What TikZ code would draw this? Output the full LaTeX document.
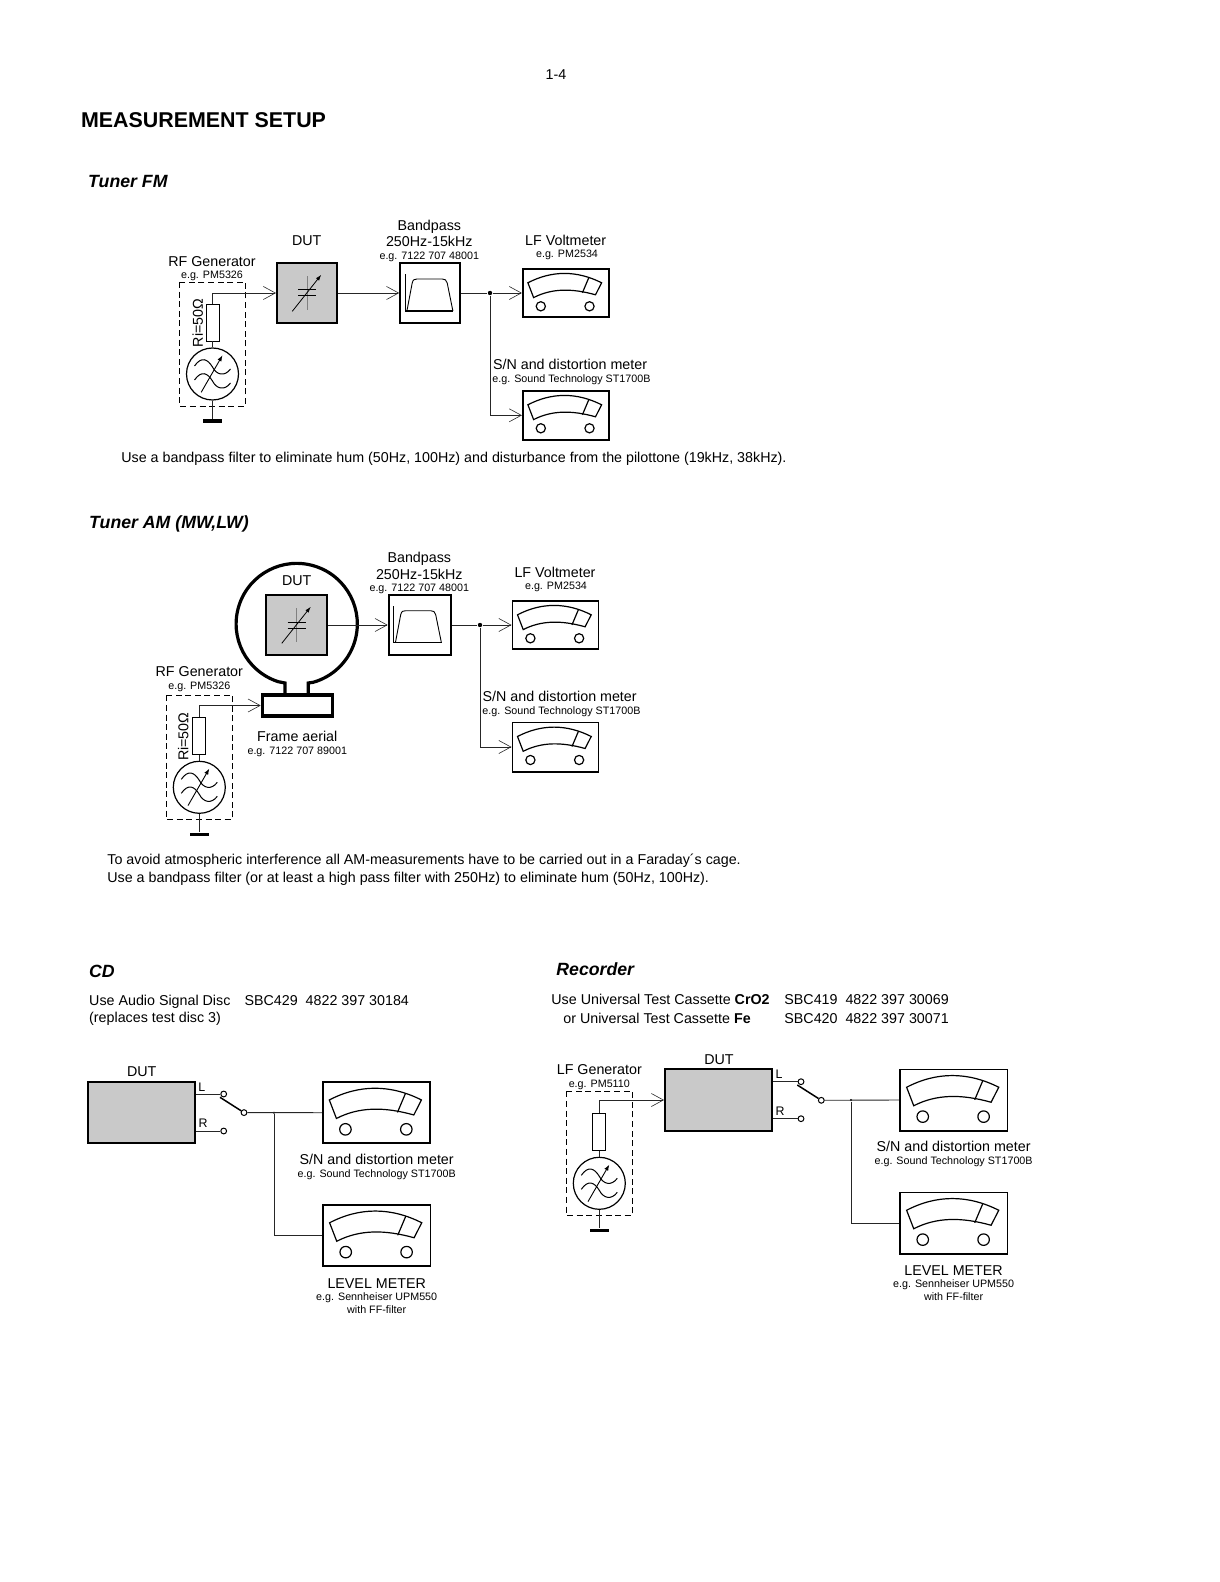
\documentclass[tikz,border=0pt]{standalone}
\usepackage{fontspec}
\setmainfont{Liberation Sans}
\usetikzlibrary{arrows.meta}
\begin{document}
\begin{tikzpicture}[x=0.5pt, y=-0.5pt,
    wire/.style={line width=0.45pt, black!85},
    arrowwire/.style={wire, -{Straight Barb[length=6pt, width=6.5pt, line width=0.3pt]}},
    labeltext/.style={font=\fontsize{7.14}{8.5}\selectfont, inner sep=0pt, text height=5.1pt, text depth=0pt},
    smalltext/.style={font=\fontsize{5.37}{6.5}\selectfont, inner sep=0pt, text height=3.85pt, text depth=0pt},
    tagtext/.style={font=\fontsize{6.2}{7}\selectfont, inner sep=0pt, text height=4.4pt, text depth=0pt},
    bodytext/.style={labeltext, anchor=west},
    heading/.style={font=\fontsize{8.85}{10}\selectfont\bfseries\itshape, inner sep=0pt, anchor=west, text height=6.4pt, text depth=0pt},
    dutbox/.style={draw, fill=black!21, line width=1pt, inner sep=0pt},
    filterbox/.style={draw, fill=white, line width=1pt, inner sep=0pt, minimum width=30pt, minimum height=30pt},
    meterbox/.style={draw, line width=0.9pt, inner sep=0pt},
    joindot/.style={circle, fill=black, inner sep=0pt, minimum size=2.2pt},
    smalldot/.style={circle, fill=black, inner sep=0pt, minimum size=1.2pt},
    terminal/.style={circle, draw, fill=white, line width=0.5pt, inner sep=0pt, minimum size=2.9pt}
  ]
  \useasboundingbox (0,0) rectangle (1219,1582);

  % Cadran du voltmetre, place depuis le coin du boitier
  \def\meterdial#1#2{
    \begin{scope}[shift={(#1.north west)}, scale=#2, line width=0.6pt]
      \draw (6,15) .. controls (30,2.5) and (55,2.5) .. (79.7,15) -- (73.6,27)
        .. controls (50,20.4) and (30,20.4) .. (11.7,29.8) -- cycle;
      \draw (67,9.6) -- (60.5,25);
      \draw (18.9,38.5) circle (4.6);
      \draw (67.6,38.5) circle (4.6);
    \end{scope}
  }

  % Condensateur variable au centre du DUT
  \def\capsym#1{
    \begin{scope}[shift={(#1.center)}]
      \draw[gray, line width=0.5pt] (0,-16.7) -- (0,16.7);
      \draw[line width=0.5pt] (-9,-3) -- (9,-3);
      \draw[line width=0.5pt] (-9,3) -- (9,3);
      \draw[line width=0.4pt, -{Latex[length=3pt, width=2pt]}] (-14.7,18.3) -- (14.3,-18.3);
    \end{scope}
  }

  % Courbe du filtre passe-bande
  \def\filtersym#1{
    \begin{scope}[shift={(#1.north west)}, line width=0.45pt]
      \draw[line width=0.6pt] (6,12.3) -- (6,49) -- (54,49);
      \draw (7.7,49) -- (13,21) .. controls (14,17.5) and (15,17) .. (18,17) -- (43,17)
        .. controls (46,17) and (47,18) .. (48,21) -- (53.7,49);
    \end{scope}
  }

  % Generateur complet : #1 prefixe, #2 axe x, #3 haut du cadre pointille
  \def\gensym#1#2#3{
    \draw[line width=0.45pt, dash pattern=on 3pt off 1.8pt] (#2-33,#3) rectangle (#2+33,#3+124);
    \node[draw, line width=0.45pt, inner sep=0pt, minimum width=6.5pt, minimum height=18.5pt] (#1res) at (#2,#3+40.5) {};
    \node[circle, draw, line width=0.6pt, inner sep=0pt, minimum size=26pt] (#1osc) at (#2,#3+92) {};
    \node[fill=black, inner sep=0pt, minimum width=9.5pt, minimum height=1.6pt] (#1gnd) at (#2,#3+139) {};
    \draw[wire] (#1res.south) -- (#1osc.north);
    \draw[wire] (#1osc.south) -- (#1gnd.north);
    \begin{scope}[shift={(#1osc.center)}, line width=0.5pt]
      \draw (-18,-8) .. controls (-11,-18) and (-5,-15) .. (0,-7) .. controls (4,1) and (12,3) .. (18,-5);
      \draw (-18,6) .. controls (-11,-4) and (-5,-1) .. (0,7) .. controls (4,15) and (12,17) .. (18,9);
      \draw[line width=0.45pt, -{Latex[length=3pt, width=2.2pt]}] (-11.3,18.3) -- (10,-18.7);
    \end{scope}
  }

  % Commutateur L/R : #1 prefixe, #2 et #3 position de la borne L
  \def\switchsym#1#2#3{
    \node[terminal] (#1left) at (#2,#3) {};
    \node[terminal] (#1right) at (#2,#3+37) {};
    \node[terminal] (#1com) at (#2+20.3,#3+18.6) {};
    \coordinate (#1blade) at (#2-3.7,#3+3.3);
    \draw[line width=0.75pt] (#1blade) -- (#1com);
  }

  % En-tete de page
  \node[labeltext] (pagenum) at (556,74) {1-4};
  \node[font=\fontsize{10.7}{12}\selectfont\bfseries, inner sep=0pt, anchor=west, text height=7.7pt, text depth=0pt] (title) at (80.7,120) {MEASUREMENT SETUP};

  % ---- Tuner FM ----
  \node[heading] (fmhead) at (87.8,181.6) {Tuner FM};
  \node[dutbox, minimum width=30pt, minimum height=30pt] (fmdut) at (307,293) {};
  \node[filterbox] (fmband) at (430.2,293) {};
  \node[meterbox, minimum width=43pt, minimum height=24.3pt] (fmvolt) at (565.8,293) {};
  \node[meterbox, minimum width=43pt, minimum height=24.6pt] (fmdist) at (565.8,415.3) {};
  \node[joindot] (fmjoin) at (490,293) {};
  \capsym{fmdut}
  \filtersym{fmband}
  \meterdial{fmvolt}{1}
  \meterdial{fmdist}{1}
  \gensym{fm}{212.5}{282}
  \draw[arrowwire] (fmres.north) |- (fmdut.west);
  \draw[arrowwire] (fmdut.east) -- (fmband.west);
  \draw[wire] (fmband.east) -- (fmjoin);
  \draw[arrowwire] (fmjoin) -- (fmvolt.west);
  \draw[arrowwire] (fmjoin) |- (fmdist.west);
  \node[labeltext] (fmgenname) at (212,261) {RF Generator};
  \node[smalltext] (fmgentype) at (212,274.7) {e.g. PM5326};
  \node[labeltext, rotate=90] (fmri) at (197.7,323) {Ri=50Ω};
  \node[labeltext] (fmdutname) at (306.7,240) {DUT};
  \node[labeltext] (fmbandname) at (429.3,225.3) {Bandpass};
  \node[labeltext] (fmbandrange) at (429.3,241.3) {250Hz-15kHz};
  \node[smalltext] (fmbandtype) at (429.3,255.3) {e.g. 7122 707 48001};
  \node[labeltext] (fmvoltname) at (565.7,240) {LF Voltmeter};
  \node[smalltext] (fmvolttype) at (567,254) {e.g. PM2534};
  \node[labeltext, anchor=west] (fmdistname) at (492.7,364) {S/N and distortion meter};
  \node[smalltext, anchor=west] (fmdisttype) at (492,379) {e.g. Sound Technology ST1700B};
  \node[bodytext] (fmnote) at (121,457) {Use a bandpass filter to eliminate hum (50Hz, 100Hz) and disturbance from the pilottone (19kHz, 38kHz).};

  % ---- Tuner AM ----
  \node[heading] (amhead) at (88.8,521.7) {Tuner AM (MW,LW)};
  % Cadre de reception : boucle et boitier
  \node[draw, fill=white, line width=1.6pt, inner sep=0pt, minimum width=35pt, minimum height=10.5pt] (amframe) at (297.3,705.5) {};
  \draw[line width=1.6pt] (285,695) -- (285,683) -- (278.3,681.7)
    arc[start angle=107.7, end angle=434.2, radius=60.6] -- (308.3,683) -- (308.3,695);
  \node[dutbox, minimum width=30.8pt, minimum height=30.3pt] (amdut) at (296.5,625) {};
  \node[filterbox, minimum width=31pt, minimum height=30.3pt] (amband) at (419.7,625) {};
  \node[meterbox, minimum width=43pt, minimum height=24.3pt] (amvolt) at (555.4,625) {};
  \node[meterbox, minimum width=43pt, minimum height=24.6pt] (amdist) at (555.4,747) {};
  \node[joindot] (amjoin) at (480,625) {};
  \capsym{amdut}
  \filtersym{amband}
  \meterdial{amvolt}{1}
  \meterdial{amdist}{1}
  \gensym{am}{199.3}{695.3}
  \draw[arrowwire] (amres.north) |- (amframe.west);
  \draw[arrowwire] (amdut.east) -- (amband.west);
  \draw[wire] (amband.east) -- (amjoin);
  \draw[arrowwire] (amjoin) -- (amvolt.west);
  \draw[arrowwire] (amjoin) |- (amdist.west);
  \node[labeltext] (amgenname) at (199.3,671.3) {RF Generator};
  \node[smalltext] (amgentype) at (199.3,685.3) {e.g. PM5326};
  \node[labeltext, rotate=90] (amri) at (183.3,736.7) {Ri=50Ω};
  \node[labeltext] (amdutname) at (296.7,580) {DUT};
  \node[labeltext] (amframename) at (297.3,736.7) {Frame aerial};
  \node[smalltext] (amframetype) at (297.3,750.7) {e.g. 7122 707 89001};
  \node[labeltext] (ambandname) at (419.3,557.3) {Bandpass};
  \node[labeltext] (ambandrange) at (419.3,574) {250Hz-15kHz};
  \node[smalltext] (ambandtype) at (419.3,587.3) {e.g. 7122 707 48001};
  \node[labeltext] (amvoltname) at (555,572) {LF Voltmeter};
  \node[smalltext] (amvolttype) at (556,585.5) {e.g. PM2534};
  \node[labeltext, anchor=west] (amdistname) at (482.3,696.3) {S/N and distortion meter};
  \node[smalltext, anchor=west] (amdisttype) at (482,710.5) {e.g. Sound Technology ST1700B};
  \node[bodytext] (amnotea) at (107,859.7) {To avoid atmospheric interference all AM-measurements have to be carried out in a Faraday´s cage.};
  \node[bodytext] (amnoteb) at (107,877) {Use a bandpass filter (or at least a high pass filter with 250Hz) to eliminate hum (50Hz, 100Hz).};

  % ---- CD ----
  \node[heading] (cdhead) at (88.8,970.7) {CD};
  \node[bodytext] (cddisc) at (88.8,1000) {Use Audio Signal Disc};
  \node[bodytext] (cdcode) at (244.2,1000) {SBC429\ \ 4822 397 30184};
  \node[bodytext] (cdnote) at (88.8,1017) {(replaces test disc 3)};
  \node[dutbox, minimum width=53.8pt, minimum height=30.6pt] (cddut) at (141.5,1112.7) {};
  \node[meterbox, minimum width=53.7pt, minimum height=30.6pt] (cdsn) at (376.4,1112.7) {};
  \node[meterbox, minimum width=53.7pt, minimum height=30.6pt] (cdlevel) at (376.7,1235.5) {};
  \meterdial{cdsn}{1.25}
  \meterdial{cdlevel}{1.25}
  \switchsym{cd}{223.7}{1094}
  \node[smalldot] (cdjoin) at (274,1112.7) {};
  \draw[wire] (cddut.east |- cdleft) -- (cdleft);
  \draw[wire] (cddut.east |- cdright) -- (cdright);
  \draw[wire] (cdcom) -- (cdsn.west);
  \draw[wire] (cdjoin) |- (cdlevel.west);
  \node[labeltext] (cddutname) at (141.7,1071) {DUT};
  \node[tagtext] (cdltag) at (201.7,1087) {L};
  \node[tagtext] (cdrtag) at (203,1123) {R};
  \node[labeltext] (cdsnname) at (376.7,1159.3) {S/N and distortion meter};
  \node[smalltext] (cdsntype) at (376.7,1173.3) {e.g. Sound Technology ST1700B};
  \node[labeltext] (cdlevelname) at (376.7,1283.3) {LEVEL METER};
  \node[smalltext] (cdleveltype) at (376.7,1296.7) {e.g. Sennheiser UPM550};
  \node[smalltext] (cdlevelfilter) at (376.7,1309.3) {with FF-filter};

  % ---- Recorder ----
  \node[heading] (rechead) at (556,968.7) {Recorder};
  \node[bodytext] (reccra) at (551,999) {Use Universal Test Cassette \textbf{CrO2}};
  \node[bodytext] (reccrb) at (784,999) {SBC419\ \ 4822 397 30069};
  \node[bodytext] (recfea) at (563,1018) {or Universal Test Cassette \textbf{Fe}};
  \node[bodytext] (recfeb) at (784,1018) {SBC420\ \ 4822 397 30071};
  \node[dutbox, minimum width=53.7pt, minimum height=31pt] (recdut) at (718.7,1100) {};
  \node[meterbox, minimum width=53.7pt, minimum height=30.6pt] (recsn) at (953.7,1100) {};
  \node[meterbox, minimum width=53.7pt, minimum height=30.6pt] (reclevel) at (953.7,1223) {};
  \meterdial{recsn}{1.25}
  \meterdial{reclevel}{1.25}
  \switchsym{rec}{801}{1081.7}
  \node[smalldot] (recjoin) at (851,1100) {};
  \gensym{rec}{599.3}{1091.3}
  \draw[arrowwire] (recres.north) |- (recdut.west);
  \draw[wire] (recdut.east |- recleft) -- (recleft);
  \draw[wire] (recdut.east |- recright) -- (recright);
  \draw[wire] (reccom) -- (recsn.west);
  \draw[wire] (recjoin) |- (reclevel.west);
  \node[labeltext] (recgenname) at (599.3,1069.3) {LF Generator};
  \node[smalltext] (recgentype) at (599.3,1083.3) {e.g. PM5110};
  \node[labeltext] (recdutname) at (719,1059) {DUT};
  \node[tagtext] (recltag) at (779,1074) {L};
  \node[tagtext] (recrtag) at (780,1111) {R};
  \node[labeltext] (recsnname) at (953.6,1146.3) {S/N and distortion meter};
  \node[smalltext] (recsntype) at (953.6,1160.5) {e.g. Sound Technology ST1700B};
  \node[labeltext] (reclevelname) at (953.6,1270.4) {LEVEL METER};
  \node[smalltext] (recleveltype) at (953.6,1283.6) {e.g. Sennheiser UPM550};
  \node[smalltext] (reclevelfilter) at (953.6,1296.7) {with FF-filter};
\end{tikzpicture}
\end{document}
